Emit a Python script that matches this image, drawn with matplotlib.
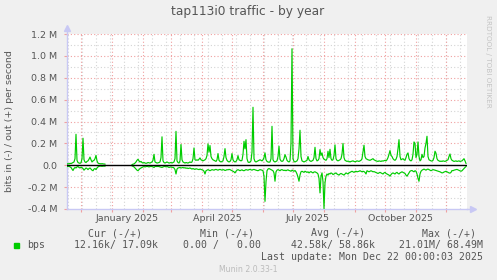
import numpy as np
import pandas as pd
import matplotlib
matplotlib.use("Agg")
import matplotlib.pyplot as plt
import matplotlib.dates as mdates
from matplotlib.patches import Rectangle

W, H = 497, 280

# daily traffic in kbit/s, day 0 = 2024-11-17
start = "2024-11-17"

out_late2024 = [10, 15, 12, 18, 15, 20, 25, 30, 60, 283,
                45, 25, 20, 18, 22, 60, 247, 50, 30, 25,
                35, 40, 55, 75, 50, 30, 40, 45, 60, 90,
                40, 20, 15, 15, 12, 15, 12, 12, 10]
in_late2024 = [-10, -12, -10, -15, -20, -35, -48, -30, -20, -25,
               -15, -12, -20, -25, -18, -22, -30, -45, -35, -25,
               -30, -40, -30, -25, -35, -45, -50, -35, -30, -40,
               -25, -15, -10, -8, -8, -10, -8, -8, -8]
gap_days = 26

out_2025 = [5, 10, 12, 20, 30, 45, 55, 40, 30, 35,
            25, 20, 25, 20, 18, 20, 25, 22, 20, 25,
            30, 45, 100, 30, 25, 20, 22, 25, 30, 70,
            260, 40, 25, 20, 25, 30, 25, 20, 22, 25,
            20, 25, 30, 60, 310, 40, 25, 20, 40, 190,
            50, 30, 25, 20, 25, 22, 20, 25, 30, 25,
            30, 60, 158, 50, 45, 50, 45, 55, 67, 50,
            45, 40, 45, 50, 60, 90, 195, 120, 180, 80,
            60, 50, 45, 40, 35, 50, 107, 45, 35, 30,
            35, 40, 80, 152, 70, 45, 35, 30, 35, 50,
            107, 50, 35, 30, 35, 50, 88, 50, 45, 40,
            45, 100, 219, 150, 234, 60, 30, 25, 30, 40,
            120, 530, 60, 35, 30, 35, 40, 45, 50, 45,
            40, 50, 70, 113, 50, 35, 30, 28, 30, 60,
            356, 50, 35, 30, 35, 40, 80, 174, 55, 40,
            35, 40, 60, 97, 75, 45, 35, 30, 40, 200,
            1065, 60, 35, 30, 35, 40, 60, 150, 320, 80,
            40, 35, 30, 35, 40, 45, 80, 50, 40, 35,
            40, 45, 70, 164, 60, 40, 45, 60, 143, 90,
            113, 70, 55, 50, 45, 60, 128, 70, 146, 60,
            45, 50, 90, 186, 60, 45, 40, 45, 50, 60,
            100, 200, 70, 45, 40, 35, 38, 35, 30, 35,
            38, 40, 35, 32, 35, 40, 38, 35, 40, 45,
            60, 120, 183, 80, 60, 55, 50, 48, 45, 50,
            55, 60, 50, 45, 40, 38, 35, 40, 38, 35,
            40, 38, 42, 45, 40, 50, 70, 100, 134, 90,
            80, 60, 50, 45, 55, 80, 150, 234, 80, 50,
            55, 60, 50, 45, 70, 100, 113, 60, 45, 40,
            50, 100, 213, 200, 70, 100, 213, 80, 40, 50,
            100, 70, 80, 158, 200, 265, 80, 50, 45, 40,
            38, 45, 70, 128, 110, 60, 45, 40, 35, 38,
            35, 40, 38, 35, 40, 45, 50, 80, 103, 60,
            45, 40, 35, 38, 40, 35, 38, 40, 35, 38,
            40, 50, 60, 40, 17]
in_2025 = [-5, -10, -15, -25, -35, -45, -50, -40, -30, -25,
           -20, -15, -12, -15, -12, -10, -12, -15, -12, -10,
           -12, -15, -20, -12, -10, -12, -10, -12, -15, -18,
           -20, -15, -12, -10, -15, -12, -15, -20, -18, -15,
           -20, -18, -25, -40, -80, -35, -25, -22, -20, -25,
           -22, -20, -25, -22, -28, -25, -30, -28, -25, -30,
           -35, -30, -35, -38, -32, -35, -38, -40, -35, -38,
           -40, -45, -55, -80, -50, -45, -40, -45, -50, -45,
           -40, -42, -45, -40, -38, -42, -45, -40, -38, -42,
           -45, -40, -42, -48, -45, -40, -42, -38, -40, -45,
           -50, -55, -60, -70, -55, -45, -40, -45, -50, -45,
           -42, -48, -50, -45, -40, -42, -45, -40, -38, -42,
           -45, -40, -38, -42, -45, -48, -50, -45, -40, -42,
           -45, -50, -100, -330, -150, -50, -35, -30, -35, -40,
           -45, -50, -70, -146, -60, -45, -40, -45, -50, -42,
           -40, -45, -48, -45, -50, -45, -42, -48, -50, -55,
           -45, -50, -55, -48, -60, -80, -110, -146, -90, -60,
           -55, -60, -65, -55, -60, -65, -60, -70, -62, -58,
           -65, -70, -62, -60, -65, -70, -80, -120, -253, -100,
           -70, -150, -396, -160, -100, -80, -90, -75, -80, -70,
           -75, -85, -80, -75, -70, -80, -85, -90, -80, -75,
           -80, -85, -90, -80, -70, -75, -80, -70, -65, -60,
           -55, -60, -65, -58, -55, -60, -58, -55, -50, -55,
           -60, -55, -58, -65, -80, -50, -55, -60, -55, -50,
           -55, -60, -58, -62, -65, -70, -75, -70, -65, -70,
           -75, -80, -70, -65, -75, -80, -85, -90, -100, -85,
           -75, -70, -75, -80, -70, -65, -75, -80, -70, -65,
           -60, -65, -70, -75, -90, -100, -85, -70, -55, -50,
           -48, -55, -60, -50, -55, -80, -120, -146, -80, -55,
           -45, -40, -35, -40, -45, -38, -35, -40, -45, -50,
           -45, -40, -42, -45, -48, -50, -55, -58, -60, -65,
           -70, -68, -62, -58, -55, -60, -65, -70, -72, -65,
           -48, -50, -45, -42, -40, -38, -42, -45, -50, -55,
           -50, -40, -30, -20, -12]

y_ticks = [-0.4e6, -0.2e6, 0, 0.2e6, 0.4e6, 0.6e6, 0.8e6, 1.0e6, 1.2e6]
label_months = ["2025-01-16", "2025-04-16", "2025-07-16", "2025-10-16"]
label_text = ["January 2025", "April 2025", "July 2025", "October 2025"]

legend_heads = ["Cur (-/+)", "Min (-/+)", "Avg (-/+)", "Max (-/+)"]
legend_vals = ["12.16k/ 17.09k", "0.00 /   0.00", "42.58k/ 58.86k", "21.01M/ 68.49M"]

out_vals = np.array(out_late2024 + [np.nan] * gap_days + out_2025, dtype=float) * 1000
in_vals = np.array(in_late2024 + [np.nan] * gap_days + in_2025, dtype=float) * 1000
dates = pd.date_range(start, periods=len(out_vals), freq="D")

BG = "#f0f0f0"
GREEN = "#00cc00"
AXIS = "#c8c8f4"
MAJOR = "#f0a0a0"
MINOR = "#d4d4d4"
TXT = "#555555"

fig = plt.figure(figsize=(W / 100, H / 100), dpi=100, facecolor=BG)
ax = fig.add_axes([67 / W, 1 - 209 / H, 400 / W, 175 / H], facecolor="white")

x0 = pd.Timestamp(start)
x1 = x0 + pd.Timedelta(days=400)
ax.set_xlim(x0, x1)
ax.set_ylim(-0.4e6, 1.2e6)

# grid
dots = (0, (1, 2))
for y in np.arange(-0.3e6, 1.2e6, 0.2e6):
    ax.axhline(y, color=MINOR, lw=0.8, ls=dots, zorder=1)
for d in pd.date_range("2024-11-18", x1, freq="14D"):
    ax.axvline(d, color=MINOR, lw=0.8, ls=dots, zorder=1)
for y in y_ticks[1:]:
    ax.axhline(y, color=MAJOR, lw=0.8, ls=dots, zorder=2)
months = pd.date_range("2024-12-01", x1, freq="MS")
for d in months:
    ax.axvline(d, color=MAJOR, lw=0.8, ls=dots, zorder=2)

ax.plot(dates, out_vals, color=GREEN, lw=0.85, zorder=3)
ax.plot(dates, in_vals, color=GREEN, lw=0.85, zorder=3)
ax.axhline(0, color="black", lw=1, zorder=4)

for s in ["top", "right"]:
    ax.spines[s].set_visible(False)
for s in ["left", "bottom"]:
    ax.spines[s].set_color(AXIS)
    ax.spines[s].set_linewidth(1)
# axis arrows
ax.plot([0, 0], [1, 1.03], color=AXIS, lw=1, transform=ax.transAxes, clip_on=False)
ax.plot([0], [1.035], marker="^", ms=4, color=AXIS, transform=ax.transAxes, clip_on=False)
ax.plot([1, 1.012], [0, 0], color=AXIS, lw=1, transform=ax.transAxes, clip_on=False)
ax.plot([1.014], [0], marker=">", ms=4, color=AXIS, transform=ax.transAxes, clip_on=False)

ax.set_yticks(y_ticks)
ax.set_yticklabels(["%.1f M" % (v / 1e6) if v != 0 else "0.0" for v in y_ticks])
ax.set_xticks(months)
ax.set_xticklabels([])
ax.tick_params(axis="y", length=2, color=MAJOR, labelsize=6.8, labelcolor=TXT, pad=5)
ax.tick_params(axis="x", length=2, color=MAJOR, direction="out")
for d, t in zip(label_months, label_text):
    ax.text(pd.Timestamp(d), -0.03, t, transform=ax.get_xaxis_transform(),
            ha="center", va="top", fontsize=6.8, color=TXT)

fig.text(248 / W, 1 - 12 / H, "tap113i0 traffic - by year", ha="center", va="center",
         fontsize=8.8, color=TXT)
fig.text(10 / W, 1 - 121 / H, "bits in (-) / out (+) per second", rotation=90,
         ha="center", va="center", fontsize=6.8, color=TXT)
fig.text(488 / W, 1 - 61 / H, "RRDTOOL / TOBI OETIKER", rotation=270,
         ha="center", va="center", fontsize=5.2, color="#c4c4c4")

mono = "DejaVu Sans Mono"
for t, xr in zip(legend_heads, [142, 254, 365, 476]):
    fig.text(xr / W, 1 - 233 / H, t, ha="right", va="center", family=mono,
             fontsize=7.1, color=TXT)
fig.patches.append(Rectangle((14 / W, 1 - 248 / H), 5 / W, 5 / H, color=GREEN,
                             transform=fig.transFigure, figure=fig))
fig.text(27 / W, 1 - 245 / H, "bps", ha="left", va="center", family=mono,
         fontsize=7.1, color=TXT)
for t, xr in zip(legend_vals, [158, 261, 375, 483]):
    fig.text(xr / W, 1 - 245 / H, t, ha="right", va="center", family=mono,
             fontsize=7.1, color=TXT)
fig.text(483 / W, 1 - 257 / H, "Last update: Mon Dec 22 00:00:03 2025", ha="right",
         va="center", family=mono, fontsize=7.1, color=TXT)
fig.text(248 / W, 1 - 269 / H, "Munin 2.0.33-1", ha="center", va="center",
         fontsize=5.6, color="#bbbbbb")

fig.savefig("out.png", dpi=100, facecolor=BG)
